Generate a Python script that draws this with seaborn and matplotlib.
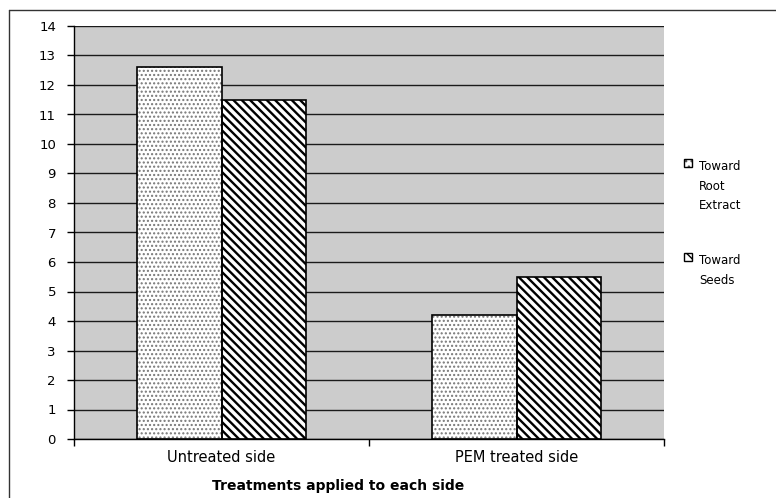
import matplotlib
matplotlib.use("Agg")
import matplotlib.pyplot as plt
from matplotlib.patches import Rectangle, Shadow
from matplotlib.lines import Line2D
import pandas as pd
import seaborn as sns

# Data
categories = ["Untreated side", "PEM treated side"]
series = ["Toward Root Extract", "Toward Seeds"]
root_extract = [12.6, 4.2]
seeds = [11.5, 5.5]
legend_labels = ["Toward\nRoot\nExtract", "Toward\nSeeds"]
y_ticks = list(range(0, 15))
x_label = "Treatments applied to each side"

df = pd.DataFrame({
    "side": categories * 2,
    "direction": [series[0]] * len(categories) + [series[1]] * len(categories),
    "count": root_extract + seeds,
})

sns.set_theme(style="white")
plt.rcParams["font.family"] = ["DejaVu Sans"]

fig = plt.figure(figsize=(7.76, 4.98), dpi=100)
fig.patch.set_facecolor("white")
ax = fig.add_axes([74 / 776, 1 - 439 / 498, 590 / 776, 413 / 498])
ax.set_facecolor("#cccccc")

sns.barplot(data=df, x="side", y="count", hue="direction", order=categories,
            hue_order=series, palette=["white", "white"], saturation=1,
            width=0.57, linewidth=0, legend=False, ax=ax)

# fill styles per series: (hatch, hatch colour, hatch linewidth)
styles = [("....", "#777777", 1.0), ("\\\\\\\\", "black", 1.7)]
for container, (hatch, hcol, hlw) in zip(ax.containers, styles):
    for bar in container:
        bar.set_edgecolor(hcol)
        bar.set_linewidth(0)
        bar.set_hatch(hatch)
        try:
            bar.set_hatch_linewidth(hlw)
        except AttributeError:
            pass
        bar.set_zorder(2)
        sh = Shadow(bar, 1.6, -1.6, facecolor="#808080", edgecolor="none", alpha=1)
        sh.set_zorder(1.5)
        ax.add_patch(sh)
        bb = bar.get_bbox()
        ax.add_patch(Rectangle((bb.x0, bb.y0), bb.width, bb.height,
                               facecolor="none", edgecolor="black",
                               linewidth=1.2, zorder=3))

ax.set_ylim(0, 14)
ax.set_xlim(-0.5, len(categories) - 0.5)
ax.set_yticks(y_ticks)
ax.set_yticklabels([str(v) for v in y_ticks])
ax.yaxis.grid(True, color="#1a1a1a", linewidth=1)
ax.set_axisbelow(True)

# category labels centred, tick marks on category boundaries
ax.set_xticks(range(len(categories)))
ax.set_xticklabels(categories)
ax.set_xticks([i - 0.5 for i in range(len(categories) + 1)], minor=True)
ax.tick_params(axis="x", which="major", length=0, pad=8, labelsize=10.5, colors="black")
ax.tick_params(axis="x", which="minor", length=5, width=1, color="black", bottom=True)
ax.tick_params(axis="y", length=5, width=1, color="black", left=True,
               labelsize=9.5, labelcolor="black", pad=8)

for side in ["top", "right"]:
    ax.spines[side].set_visible(False)
for side in ["left", "bottom"]:
    ax.spines[side].set_color("black")
    ax.spines[side].set_linewidth(1)

ax.set_ylabel("")
ax.set_xlabel(x_label, fontsize=10, fontweight="bold", color="black")
ax.xaxis.set_label_coords(0.4475, -0.097)

# legend with the handle beside the first line of each label
legend_styles = [("...", "#555555"), ("\\\\\\", "black")]
legend_top = [159, 253]
for (hatch, hcol), lab, ly in zip(legend_styles, legend_labels, legend_top):
    xy = (684 / 776, 1 - (ly + 8) / 498)
    w, h = 8 / 776, 8 / 498
    fig.patches.append(Rectangle(xy, w, h, transform=fig.transFigure,
                                 facecolor="white", edgecolor=hcol,
                                 hatch=hatch, linewidth=0))
    fig.patches.append(Rectangle(xy, w, h, transform=fig.transFigure,
                                 facecolor="none", edgecolor="black", linewidth=1))
    fig.text(699 / 776, 1 - (ly + 1) / 498, lab, fontsize=8.5, va="top", ha="left",
             color="black", linespacing=1.65)

# chart frame
fig.add_artist(Line2D([9 / 776, 1], [1 - 10 / 498] * 2, transform=fig.transFigure,
                      color="#333333", linewidth=1))
fig.add_artist(Line2D([9 / 776] * 2, [0, 1 - 10 / 498], transform=fig.transFigure,
                      color="#333333", linewidth=1))

fig.savefig("out.png", dpi=100)
